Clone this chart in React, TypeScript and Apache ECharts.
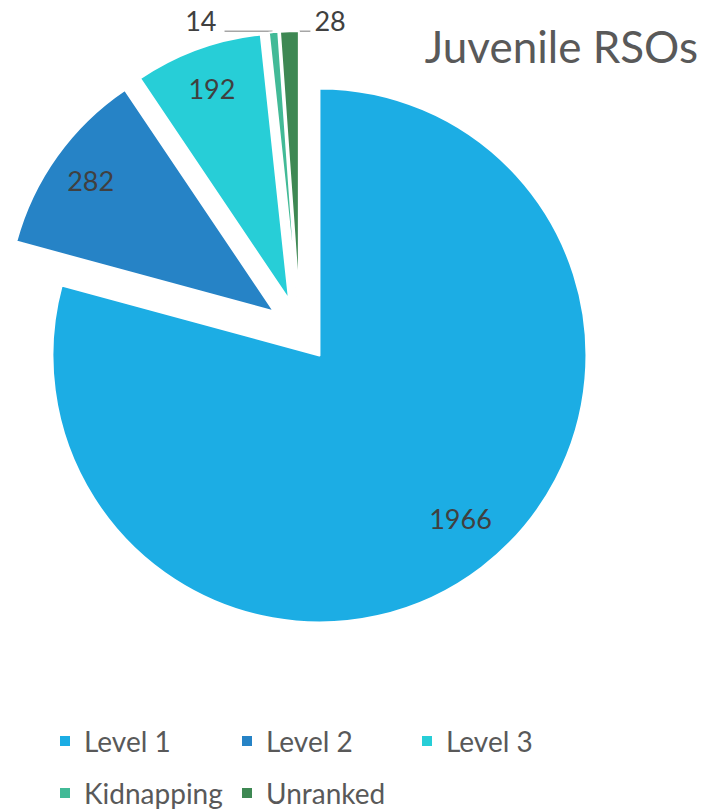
import React, { useEffect, useRef } from 'react';
import * as echarts from 'echarts';

const categories = ['Level 1', 'Level 2', 'Level 3', 'Kidnapping', 'Unranked'];
const values = [1966, 282, 192, 14, 28];
const colors = ['#1CADE4', '#2683C6', '#27CED7', '#42BA97', '#3E8853'];
const titleText = 'Juvenile RSOs';
const outsideLabelItems = ['Kidnapping', 'Unranked'];
const legendColumns = [['Level 1', 'Kidnapping'], ['Level 2', 'Unranked'], ['Level 3']];

const FONT = 'Lato, "Open Sans", sans-serif';

export default function App() {
  const ref = useRef<HTMLDivElement>(null);
  useEffect(() => {
    if (!ref.current) return;
    const chart = echarts.init(ref.current, undefined, { renderer: 'svg' });
    const center = [300, 330];
    const R = 267;
    const explode = 32;

    const mainData = categories.map((name, i) => ({
      name,
      value: values[i],
      selected: true,
      itemStyle: { color: colors[i] },
    }));
    // inside labels (exploded with the slices)
    const insideLabelData = categories.map((name, i) => {
      const outside = outsideLabelItems.includes(name);
      return {
        name,
        value: values[i],
        selected: true,
        label: outside
          ? { show: false }
          : i === 0
          ? { show: true, formatter: '{c}\n ', lineHeight: 32, padding: [0, 0, 0, 8] }
          : { show: true },
      };
    });
    // outside labels: unexploded ring whose outer radius equals exploded edge
    const outsideLabelData = categories.map((name, i) => {
      const outside = outsideLabelItems.includes(name);
      return {
        name,
        value: values[i],
        label: { show: outside },
        labelLine: { show: outside },
      };
    });

    const legendBase = {
      orient: 'vertical',
      icon: 'rect',
      itemWidth: 10,
      itemHeight: 10,
      itemGap: 22,
      padding: 0,
      selectedMode: false,
      itemStyle: { borderWidth: 0 },
      textStyle: {
        fontFamily: FONT,
        fontSize: 28,
        color: '#595959',
        lineHeight: 30,
        padding: [0, 0, 0, 9],
      },
      top: 726,
    };
    const legendLefts = [60, 242, 422];

    const labelStyle = {
      formatter: '{c}',
      color: '#404040',
      fontFamily: FONT,
      fontSize: 27,
    };

    chart.setOption({
      animation: false,
      backgroundColor: '#ffffff',
      title: {
        text: titleText,
        right: 13,
        top: 24,
        padding: 0,
        textStyle: { fontFamily: FONT, fontSize: 44, fontWeight: 'normal', color: '#595959' },
      },
      legend: legendColumns.map((col, i) => ({ ...legendBase, data: col, left: legendLefts[i] })),
      series: [
        {
          type: 'pie',
          name: 'main',
          center,
          radius: R,
          startAngle: 90,
          clockwise: true,
          selectedMode: 'multiple',
          selectedOffset: explode,
          avoidLabelOverlap: false,
          label: { show: false },
          labelLine: { show: false },
          itemStyle: { borderColor: '#ffffff', borderWidth: 2 },
          emphasis: { disabled: true },
          silent: true,
          data: mainData,
        },
        {
          type: 'pie',
          name: 'insideLabels',
          center,
          radius: [178, R],
          startAngle: 90,
          clockwise: true,
          selectedMode: 'multiple',
          selectedOffset: explode,
          avoidLabelOverlap: false,
          silent: true,
          emphasis: { disabled: true },
          itemStyle: { color: 'rgba(0,0,0,0)', borderWidth: 0 },
          label: { ...labelStyle, position: 'inside' },
          labelLine: { show: false },
          data: insideLabelData,
        },
        {
          type: 'pie',
          name: 'outsideLabels',
          center,
          radius: [R + explode - 1, R + explode],
          startAngle: 90,
          clockwise: true,
          avoidLabelOverlap: false,
          silent: true,
          emphasis: { disabled: true },
          itemStyle: { color: 'rgba(0,0,0,0)', borderWidth: 0 },
          label: { ...labelStyle, position: 'outside' },
          labelLine: { length: 10, length2: 10, lineStyle: { color: '#A6A6A6', width: 1.5 } },
          labelLayout: (p: any) => {
            const name = categories[p.dataIndex];
            const pts = p.labelLinePoints;
            if (!outsideLabelItems.includes(name) || !pts) return {};
            const x0 = pts[0][0];
            const y0 = pts[0][1];
            if (name === 'Kidnapping') {
              const ly = y0 - 1;
              return {
                x: x0 - 57,
                y: ly - 10.5,
                align: 'right',
                verticalAlign: 'middle',
                labelLinePoints: [[x0 - 1, ly], [x0 - 2, ly], [x0 - 49, ly]],
              };
            }
            return {
              x: x0 + 25,
              y: y0 - 10.5,
              align: 'left',
              verticalAlign: 'middle',
              labelLinePoints: [[x0 + 8, y0 + 6], [x0 + 8, y0], [x0 + 21, y0]],
            };
          },
          data: outsideLabelData,
        },
      ],
    });
    return () => chart.dispose();
  }, []);
  return (
    <div
      ref={ref}
      style={{ position: 'fixed', left: 0, top: 0, width: 711, height: 810, background: '#fff' }}
    />
  );
}
